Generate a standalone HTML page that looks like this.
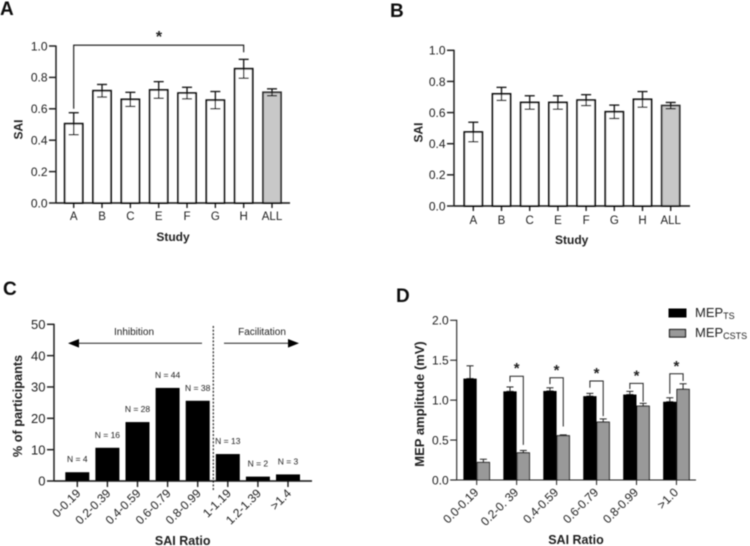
<!DOCTYPE html>
<html>
<head>
<meta charset="utf-8">
<title>SAI figure</title>
<style>
html,body{margin:0;padding:0;background:#fff;}
body{width:750px;height:546px;overflow:hidden;}
svg{display:block;}
text{font-family:"Liberation Sans",sans-serif;fill:#222;}
.p{font-size:19px;font-weight:bold;fill:#111;}
</style>
</head>
<body>
<svg id="fig" width="750" height="546" viewBox="0 0 750 546" xmlns="http://www.w3.org/2000/svg">
<defs><filter id="soft" x="-5%" y="-5%" width="110%" height="110%"><feGaussianBlur stdDeviation="0.45"/></filter></defs>
<g id="root" filter="url(#soft)">
<text class="p" x="0" y="15">A</text>
<text class="p" x="390" y="17">B</text>
<text class="p" x="3" y="295">C</text>
<text class="p" x="396" y="302">D</text>

<g>
<rect x="669" y="309" width="17" height="8" fill="#000" stroke="#000"/>
<text x="695" y="317" font-size="13">MEP<tspan font-size="9" dy="2">TS</tspan></text>
<rect x="669.5" y="329.5" width="16" height="7.5" fill="#999" stroke="#111" stroke-width="1.2"/>
<text x="695" y="337" font-size="13">MEP<tspan font-size="9" dy="2">CSTS</tspan></text>
</g>
</g>
</svg>
<script>
// Panel A data
var studyA = ['A','B','C','E','F','G','H','ALL'];
var saiA = [0.505,0.715,0.66,0.72,0.70,0.655,0.855,0.705];
var errA = [0.07,0.04,0.045,0.053,0.037,0.055,0.06,0.022];
// Panel B data
var studyB = ['A','B','C','E','F','G','H','ALL'];
var saiB = [0.475,0.72,0.665,0.665,0.68,0.605,0.685,0.645];
var errB = [0.063,0.042,0.043,0.043,0.035,0.043,0.05,0.02];
var ticksAB = [0,0.2,0.4,0.6,0.8,1.0];
// Panel C data
var ratioC = ['0-0.19','0.2-0.39','0.4-0.59','0.6-0.79','0.8-0.99','1-1.19','1.2-1.39','>1.4'];
var pctC = [2.8,10.6,18.8,29.7,25.6,8.6,1.4,2.1];
var countC = ['N = 4','N = 16','N = 28','N = 44','N = 38','N = 13','N = 2','N = 3'];
var ticksC = [0,10,20,30,40,50];
// Panel D data
var ratioD = ['0.0-0.19','0.2-0. 39','0.4-0.59','0.6-0.79','0.8-0.99','>1.0'];
var mepTS = [1.27,1.11,1.115,1.05,1.07,0.98];
var errTS = [0.16,0.055,0.04,0.035,0.04,0.05];
var mepCSTS = [0.22,0.34,0.555,0.725,0.925,1.135];
var errCSTS = [0.04,0.03,0.01,0.04,0.035,0.07];
var ticksD = [0,0.5,1.0,1.5,2.0];
var bracketTop = [null,1.30,1.28,1.24,1.21,1.33];
var bracketLeft = [null,1.23,1.20,1.155,1.14,1.08];
var bracketRight = [null,0.44,0.67,0.80,0.98,1.24];

var NS = 'http://www.w3.org/2000/svg';
var root = document.getElementById('root');

function make(tag, attrs, name, parent) {
  var el = document.createElementNS(NS, tag);
  for (var k in attrs) el.setAttribute(k, attrs[k]);
  
  
  (parent || root).appendChild(el);
  return el;
}
function line(x1, y1, x2, y2, color, w, name, parent, dash) {
  var a = {x1:x1, y1:y1, x2:x2, y2:y2, stroke:color, 'stroke-width':w};
  if (dash) a['stroke-dasharray'] = dash;
  return make('line', a, name, parent);
}
function label(x, y, str, size, anchor, bold, name, parent, transform) {
  var a = {x:x, y:y, 'font-size':size, 'text-anchor':anchor};
  if (bold) a['font-weight'] = 'bold';
  if (transform) a.transform = transform;
  var el = make('text', a, name, parent);
  el.textContent = str;
  return el;
}
function errorBar(x, yTop, yBottom, cap, color, w, name, parent) {
  line(x, yTop, x, yBottom, color, w, name + '-stem', parent);
  line(x - cap, yTop, x + cap, yTop, color, w, name + '-cap-top', parent);
  if (yBottom !== yTop) line(x - cap, yBottom, x + cap, yBottom, color, w, name + '-cap-bottom', parent);
}
function yAxis(cfg, ticks, fmt, g) {
  line(cfg.x0, cfg.y(ticks[ticks.length - 1]) - 0.5, cfg.x0, cfg.y(0) + 0.5, '#222', cfg.lw, 'y-axis-line', g);
  ticks.forEach(function (t) {
    line(cfg.x0 - cfg.tick, cfg.y(t), cfg.x0, cfg.y(t), '#222', cfg.lw, 'y-tick', g);
    label(cfg.x0 - cfg.tick - 1.5, cfg.y(t) + cfg.fs * 0.36, fmt(t), cfg.fs, 'end', false, 'y-tick-label', g);
  });
}

// Panels A and B share one drawing routine
function studyPanel(name, cats, vals, errs, x0, xFirst, step, y0, yTop, xEnd, labelY) {
  var g = make('g', {}, name, root);
  var x = function (i) { return xFirst + i * step; };
  var y = function (v) { return y0 - v * (y0 - yTop); };
  cats.forEach(function (c, i) {
    var isAll = c === 'ALL';
    make('rect', {x:x(i) - 9, y:y(vals[i]), width:18, height:y(0) - y(vals[i]),
      fill: isAll ? '#c8c8c8' : '#fff', stroke: isAll ? '#333' : '#111', 'stroke-width':1.8}, 'bar-' + c.toLowerCase(), g);
    errorBar(x(i), y(vals[i] + errs[i]), y(vals[i] - errs[i]), 5, '#111', 1.3, 'error-bar-' + c.toLowerCase(), g);
    line(x(i), y0, x(i), y0 + 5, '#111', 1.3, 'x-tick', g);
    label(x(i), labelY, c, 11.5, 'middle', false, 'x-tick-label', g);
  });
  line(x0, y0, xEnd, y0, '#111', 1.5, 'x-axis-line', g);
  yAxis({x0:x0, y:y, tick:7, lw:1.5, fs:12}, ticksAB, function (t) { return t.toFixed(1); }, g);
  return {g:g, x:x, y:y};
}

var A = studyPanel('panel-a-chart', studyA, saiA, errA, 56, 73.7, 28.33, 203, 46, 290, 220);
label(18, 125, 'SAI', 12, 'middle', true, 'y-axis-title', A.g, 'rotate(-90 22.5 125)');
label(173, 241, 'Study', 12, 'middle', true, 'x-axis-title', A.g);
var sigA = make('polyline', {points:[A.x(0), A.y(0.6), A.x(0), A.y(1.005), A.x(6), A.y(1.005), A.x(6), A.y(0.96)].join(' '),
  fill:'none', stroke:'#111', 'stroke-width':1.1}, 'significance-bracket', A.g);
label(159, 42, '*', 16, 'middle', true, 'significance-star', A.g);

var B = studyPanel('panel-b-chart', studyB, saiB, errB, 454, 473.3, 28.2, 206, 50.3, 690, 224);
label(418, 128, 'SAI', 12, 'middle', true, 'y-axis-title', B.g, 'rotate(-90 422.5 128)');
label(571.7, 244, 'Study', 12, 'middle', true, 'x-axis-title', B.g);

// Panel C
(function () {
  var g = make('g', {}, 'panel-c-chart', root);
  var x0 = 54, y0 = 481, yTop = 324.3;
  var x = function (i) { return 77.3 + i * 30.1; };
  var y = function (v) { return y0 - v / 50 * (y0 - yTop); };
  pctC.forEach(function (v, i) {
    make('rect', {x:x(i) - 12, y:y(v), width:24, height:y(0) - y(v), fill:'#000'}, 'bar-' + ratioC[i], g);
    label(x(i), y(v) - 10, countC[i], 8.5, 'middle', false, 'bar-count-label', g);
    line(x(i), y0, x(i), y0 + 6, '#111', 1.3, 'x-tick', g);
    var lx = x(i) + 4, ly = 494;
    label(lx, ly, ratioC[i], 12, 'end', false, 'x-tick-label', g, 'rotate(-45 ' + lx + ' ' + ly + ')');
  });
  line(x0, y0, 312, y0, '#111', 1.5, 'x-axis-line', g);
  yAxis({x0:x0, y:y, tick:7, lw:1.5, fs:13}, ticksC, function (t) { return String(t); }, g);
  line(213.3, 326, 213.3, 490, '#111', 1.1, 'threshold-dotted-line', g, '2 1.6');
  label(134, 335, 'Inhibition', 10, 'middle', false, 'inhibition-label', g);
  label(262, 335, 'Facilitation', 10, 'middle', false, 'facilitation-label', g);
  line(78, 343.3, 202, 343.3, '#222', 1, 'inhibition-arrow-shaft', g);
  make('polygon', {points:'68,343.3 79,339 79,347.6', fill:'#000'}, 'inhibition-arrowhead', g);
  line(224, 343.3, 290, 343.3, '#222', 1, 'facilitation-arrow-shaft', g);
  make('polygon', {points:'299,343.3 288,339 288,347.6', fill:'#000'}, 'facilitation-arrowhead', g);
  label(18, 402, '% of participants', 12.7, 'middle', true, 'y-axis-title', g, 'rotate(-90 22 402)');
  label(182.7, 545, 'SAI Ratio', 12.5, 'middle', true, 'x-axis-title', g);
})();

// Panel D
(function () {
  var g = make('g', {}, 'panel-d-chart', root);
  var x0 = 456.7, y0 = 480, yTop = 320.3, w = 13.3;
  var x = function (i) { return 476.7 + i * 39.95; };
  var y = function (v) { return y0 - v / 2 * (y0 - yTop); };
  ratioD.forEach(function (c, i) {
    var cx = x(i);
    errorBar(cx - w / 2, y(mepTS[i] + errTS[i]), y(mepTS[i]), 3.5, '#222', 1, 'error-bar-mep-ts', g);
    make('rect', {x:cx - w, y:y(mepTS[i]), width:w, height:y(0) - y(mepTS[i]), fill:'#000'}, 'bar-mep-ts-' + c, g);
    errorBar(cx + w / 2, y(mepCSTS[i] + errCSTS[i]), y(mepCSTS[i]), 3.5, '#222', 1, 'error-bar-mep-csts', g);
    make('rect', {x:cx + 0.5, y:y(mepCSTS[i]), width:w - 1, height:y(0) - y(mepCSTS[i]),
      fill:'#999', stroke:'#111', 'stroke-width':1}, 'bar-mep-csts-' + c, g);
    line(cx, y0, cx, y0 + 5, '#222', 1, 'x-tick', g);
    var lx = cx + 2.5, ly = 493;
    label(lx, ly, c, 12, 'end', false, 'x-tick-label', g, 'rotate(-45 ' + lx + ' ' + ly + ')');
    if (bracketTop[i] !== null) {
      var xl = cx - w / 2, xr = cx + w / 2;
      make('polyline', {points:[xl, y(bracketLeft[i]), xl, y(bracketTop[i]), xr, y(bracketTop[i]), xr, y(bracketRight[i])].join(' '),
        fill:'none', stroke:'#222', 'stroke-width':1}, 'significance-bracket', g);
      label(cx, y(bracketTop[i]) - 3, '*', 15, 'middle', true, 'significance-star', g);
    }
  });
  line(x0, y0, 696, y0, '#222', 1.1, 'x-axis-line', g);
  yAxis({x0:x0, y:y, tick:6.5, lw:1.1, fs:12}, ticksD, function (t) { return t.toFixed(1); }, g);
  label(420, 400, 'MEP amplitude (mV)', 13, 'middle', true, 'y-axis-title', g, 'rotate(-90 424 400)');
  label(576, 544, 'SAI Ratio', 12.5, 'middle', true, 'x-axis-title', g);
})();
</script>
</body>
</html>
